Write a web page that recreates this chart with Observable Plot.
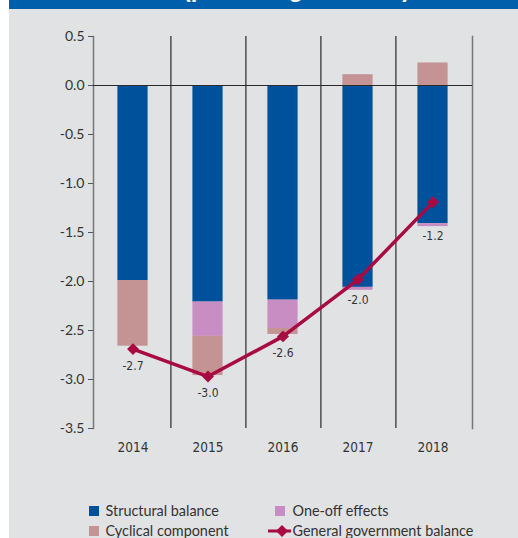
<!DOCTYPE html>
<html>
<head>
<meta charset="utf-8">
<script src="https://cdn.jsdelivr.net/npm/d3@7"></script>
<script src="https://cdn.jsdelivr.net/npm/@observablehq/plot@0.6"></script>
<style>
  html, body { margin: 0; padding: 0; background: #ffffff; }
  #wrap { position: absolute; left: 9px; top: 0; width: 509px; height: 538px; background: #e1e2e4; overflow: hidden; }
  #header { position: absolute; left: 0; top: 0; width: 509px; height: 9px; background: #005faa; overflow: hidden; }
  #header span { position: absolute; left: 174px; top: -24px; font: bold 23.5px "Liberation Sans", Arial, sans-serif; line-height: 26px; color: #ffffff; white-space: nowrap; }
  #chart { position: absolute; left: 0; top: 9px; }
  .lg { position: absolute; font: 14.4px Lato, "Liberation Sans", sans-serif; color: #333; line-height: 20px; white-space: nowrap; }
  .sw { position: absolute; width: 10px; height: 10px; }
</style>
</head>
<body>
<div id="wrap">
  <div id="header"><span>(percentage of GDP)</span></div>
  <div id="chart"></div>
  <div id="legend"></div>
</div>
<script>
const years = [2014, 2015, 2016, 2017, 2018];
const structural = [-1.99, -2.21, -2.19, -2.06, -1.41];
const oneOff = [0, -0.35, -0.29, -0.03, -0.03];
const cyclical = [-0.67, -0.40, -0.06, 0.11, 0.23];
const ggb = [-2.69, -2.97, -2.56, -1.98, -1.19];
const ggbLabels = ["-2.7", "-3.0", "-2.6", "-2.0", "-1.2"];
const yTicks = [0.5, 0, -0.5, -1, -1.5, -2, -2.5, -3, -3.5];
const seriesNames = ["Structural balance", "One-off effects", "Cyclical component"];
const lineName = "General government balance";
const seriesColors = ["#00519b", "#c88dc2", "#c49393"];
const lineColor = "#a80a42";

const W = 509, H = 470, mL = 84, mR = 46, mT = 27, mB = 51;
const bw = (W - mL - mR) / years.length;
const barInset = (bw - 31) / 2;
const pxPerUnit = (H - mT - mB) / (yTicks[0] - yTicks[yTicks.length - 1]);

const seriesValues = [structural, oneOff, cyclical];
const stackData = [];
seriesNames.forEach((s, si) => {
  years.forEach((yr, i) => stackData.push({year: yr, series: s, value: seriesValues[si][i]}));
});
const ggbData = years.map((yr, i) => {
  const neg = [structural[i], oneOff[i], cyclical[i]].filter(v => v < 0).reduce((a, b) => a + b, 0);
  const labelY = Math.min(ggb[i] - 17 / pxPerUnit, neg - 10 / pxPerUnit);
  return {year: yr, value: ggb[i], label: ggbLabels[i], labelY};
});

const narrow = '"Liberation Sans Narrow", "Arial Narrow", "DejaVu Sans Condensed", sans-serif';

const chart = Plot.plot({
  width: W, height: H, marginLeft: mL, marginRight: mR, marginTop: mT, marginBottom: mB,
  style: {background: "transparent", fontFamily: 'Lato, "Liberation Sans", sans-serif', color: "#333"},
  x: {type: "band", domain: years, padding: 0, label: null},
  y: {domain: [yTicks[yTicks.length - 1], yTicks[0]], label: null},
  color: {domain: seriesNames, range: seriesColors},
  marks: [
    Plot.ruleX(years.slice(0, -1), {x: d => d, dx: bw / 2, stroke: "#2a2a2a", strokeWidth: 1.2}),
    Plot.frame({anchor: "left", stroke: "#777", strokeWidth: 1.5}),
    Plot.frame({anchor: "right", stroke: "#777", strokeWidth: 1.5}),
    Plot.barY(stackData, {x: "year", y: "value", fill: "series", insetLeft: barInset, insetRight: barInset}),
    Plot.ruleY([0], {stroke: "#2a2a2a", strokeWidth: 1.2}),
    Plot.line(ggbData, {x: "year", y: "value", stroke: lineColor, strokeWidth: 3.5}),
    Plot.dot(ggbData, {x: "year", y: "value", symbol: "diamond2", r: 5.4, fill: lineColor, stroke: "none"}),
    Plot.text(ggbData, {x: "year", y: "labelY", text: "label", fontSize: 12, fill: "#333", fontFamily: narrow}),
    Plot.axisY({ticks: yTicks, tickFormat: d => d.toFixed(1), tickSize: 5, tickPadding: 4, fontSize: 14, stroke: "#555", color: "#333"}),
    Plot.axisX({tickSize: 0, tickPadding: 13.5, tickFormat: d => String(d), fontSize: 13.5, fontFamily: narrow, color: "#333"})
  ]
});
document.getElementById("chart").appendChild(chart);

// Legend
const legend = document.getElementById("legend");
const items = [
  {name: seriesNames[0], color: seriesColors[0], sx: 80, tx: 96.5, cy: 510.5},
  {name: seriesNames[2], color: seriesColors[2], sx: 80, tx: 96.5, cy: 530.5},
  {name: seriesNames[1], color: seriesColors[1], sx: 266, tx: 283.5, cy: 510.5},
  {name: lineName, color: lineColor, sx: 259, tx: 283.5, cy: 530.5, line: true}
];
items.forEach(it => {
  if (it.line) {
    const ns = "http://www.w3.org/2000/svg";
    const svg = document.createElementNS(ns, "svg");
    svg.setAttribute("width", 24); svg.setAttribute("height", 14);
    svg.style.position = "absolute"; svg.style.left = it.sx + "px"; svg.style.top = (it.cy - 7) + "px";
    const l = document.createElementNS(ns, "line");
    l.setAttribute("x1", 0); l.setAttribute("x2", 23); l.setAttribute("y1", 7); l.setAttribute("y2", 7);
    l.setAttribute("stroke", it.color); l.setAttribute("stroke-width", 3);
    const p = document.createElementNS(ns, "path");
    p.setAttribute("d", "M14,1L20,7L14,13L8,7Z"); p.setAttribute("fill", it.color);
    svg.appendChild(l); svg.appendChild(p);
    legend.appendChild(svg);
  } else {
    const s = document.createElement("div");
    s.className = "sw"; s.style.background = it.color;
    s.style.left = it.sx + "px"; s.style.top = (it.cy - 5) + "px";
    legend.appendChild(s);
  }
  const t = document.createElement("div");
  t.className = "lg"; t.textContent = it.name;
  t.style.left = it.tx + "px"; t.style.top = (it.cy - 10) + "px";
  legend.appendChild(t);
});
</script>
</body>
</html>
